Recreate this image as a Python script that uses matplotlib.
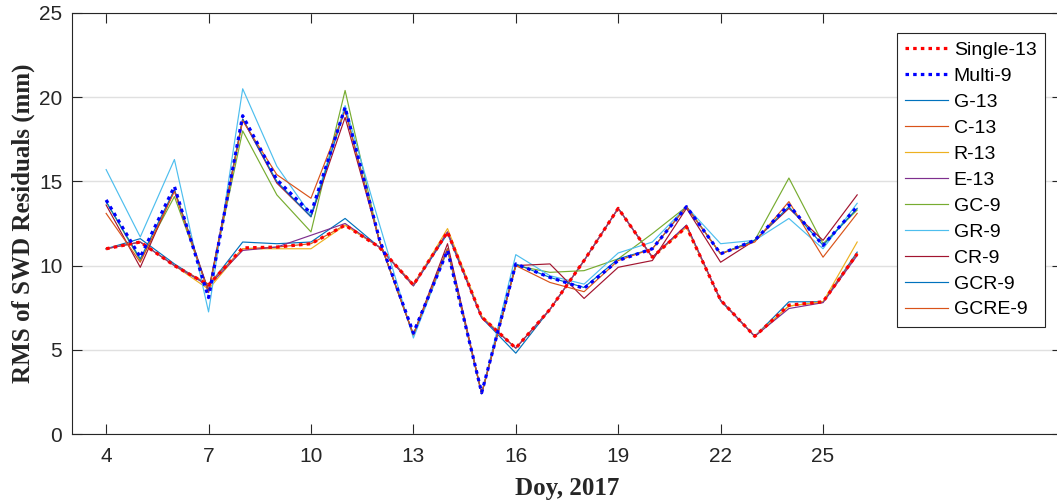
import matplotlib
matplotlib.use("Agg")
import matplotlib.pyplot as plt
import numpy as np

days = list(range(4, 27))

single_13 = [11.0, 11.4, 10.0, 8.85, 11.05, 11.1, 11.3, 12.4, 11.1, 8.85, 12.0, 6.95, 5.1, 7.4, 10.3, 13.4, 10.5, 12.3, 7.95, 5.8, 7.65, 7.85, 10.7]
multi_9 = [13.9, 10.5, 14.7, 8.1, 18.9, 15.1, 13.1, 19.4, 11.6, 6.0, 10.9, 2.45, 10.1, 9.3, 8.65, 10.3, 11.0, 13.5, 10.7, 11.5, 13.6, 11.2, 13.5]
g_13 = [11.0, 11.6, 10.1, 8.8, 11.4, 11.3, 11.4, 12.8, 11.1, 8.8, 11.9, 6.9, 4.8, 7.4, 10.3, 13.4, 10.5, 12.4, 7.9, 5.8, 7.85, 7.85, 10.8]
c_13 = [11.0, 11.4, 10.0, 8.9, 11.0, 11.1, 11.3, 12.4, 11.1, 8.9, 12.0, 6.95, 5.1, 7.4, 10.3, 13.4, 10.5, 12.3, 7.95, 5.8, 7.6, 7.85, 10.7]
r_13 = [11.0, 11.4, 10.0, 8.6, 11.0, 11.0, 11.0, 12.4, 11.1, 8.8, 12.2, 7.0, 5.1, 7.4, 10.3, 13.4, 10.5, 12.3, 7.95, 5.8, 7.6, 7.85, 11.4]
e_13 = [11.0, 11.4, 10.0, 8.8, 10.9, 11.1, 11.8, 12.5, 11.1, 8.8, 12.0, 6.9, 5.1, 7.4, 10.3, 13.4, 10.5, 12.4, 7.95, 5.8, 7.45, 7.8, 10.6]
gc_9 = [13.8, 10.3, 14.1, 8.5, 18.0, 14.2, 12.0, 20.4, 11.5, 5.9, 11.0, 2.4, 10.0, 9.6, 9.7, 10.4, 11.9, 13.5, 10.7, 11.5, 15.2, 11.3, 13.3]
gr_9 = [15.7, 11.7, 16.3, 7.25, 20.5, 15.9, 13.0, 19.5, 12.5, 5.7, 10.9, 2.4, 10.65, 9.4, 8.9, 10.75, 11.4, 13.5, 11.3, 11.5, 12.8, 11.0, 13.7]
cr_9 = [13.6, 9.9, 14.5, 8.5, 18.7, 14.9, 12.9, 18.8, 11.5, 5.9, 11.3, 2.4, 10.0, 10.1, 8.05, 9.9, 10.3, 13.4, 10.2, 11.5, 13.4, 11.5, 14.2]
gcr_9 = [13.8, 10.4, 14.5, 8.4, 18.7, 15.0, 12.9, 19.3, 11.5, 5.9, 11.0, 2.4, 10.1, 9.3, 8.7, 10.4, 11.0, 13.5, 10.7, 11.5, 13.5, 11.2, 13.4]
gcre_9 = [13.1, 10.2, 14.4, 8.4, 18.6, 15.4, 14.0, 19.2, 11.5, 5.9, 11.0, 2.4, 10.0, 9.0, 8.45, 10.3, 11.0, 13.5, 10.7, 11.4, 13.8, 10.5, 13.1]

labels = ["Single-13", "Multi-9", "G-13", "C-13", "R-13", "E-13", "GC-9", "GR-9", "CR-9", "GCR-9", "GCRE-9"]
yticks = [0, 5, 10, 15, 20, 25]
xticks = [4, 7, 10, 13, 16, 19, 22, 25]

c_blue = (0, 0.447, 0.741)
c_orange = (0.85, 0.325, 0.098)
c_yellow = (0.929, 0.694, 0.125)
c_purple = (0.494, 0.184, 0.556)
c_green = (0.466, 0.674, 0.188)
c_cyan = (0.301, 0.745, 0.933)
c_maroon = (0.635, 0.078, 0.184)

W, H = 1057, 501
fig = plt.figure(figsize=(W / 100, H / 100), dpi=100)
ax = fig.add_axes([72 / W, (H - 434) / H, (1062 - 72) / W, (434 - 13) / H])

dot = (0, (1.1, 1.3))
ax.plot(days, single_13, color=(1, 0, 0), lw=2.3, ls=dot, label=labels[0], zorder=5)
ax.plot(days, multi_9, color=(0, 0, 1), lw=2.3, ls=dot, label=labels[1], zorder=5)
thin = 0.85
ax.plot(days, g_13, color=c_blue, lw=thin, label=labels[2])
ax.plot(days, c_13, color=c_orange, lw=thin, label=labels[3])
ax.plot(days, r_13, color=c_yellow, lw=thin, label=labels[4])
ax.plot(days, e_13, color=c_purple, lw=thin, label=labels[5])
ax.plot(days, gc_9, color=c_green, lw=thin, label=labels[6])
ax.plot(days, gr_9, color=c_cyan, lw=thin, label=labels[7])
ax.plot(days, cr_9, color=c_maroon, lw=thin, label=labels[8])
ax.plot(days, gcr_9, color=c_blue, lw=thin, label=labels[9])
ax.plot(days, gcre_9, color=c_orange, lw=thin, label=labels[10])

ax.set_xlim(3, 32)
ax.set_ylim(0, 25)
ax.set_xticks(xticks)
ax.set_yticks(yticks)
ax.yaxis.grid(True, color=(0.88, 0.88, 0.88), lw=1.0)
ax.set_axisbelow(True)
ax.tick_params(direction="in", length=7, width=0.8, top=True, right=True,
               labelsize=15, colors=(0.15, 0.15, 0.15))
ax.tick_params(axis="x", pad=9)
ax.tick_params(axis="y", pad=7)
for lab in ax.get_xticklabels() + ax.get_yticklabels():
    lab.set_family("Liberation Sans")
for s in ax.spines.values():
    s.set_color((0.15, 0.15, 0.15))
    s.set_linewidth(0.8)

ax.set_xlabel("Doy, 2017", family="Liberation Serif", fontweight="bold", fontsize=18,
              labelpad=8.5, color=(0.15, 0.15, 0.15))
ax.set_ylabel("RMS of SWD Residuals (mm)", family="Liberation Serif", fontweight="bold", fontsize=18,
              labelpad=3, color=(0.15, 0.15, 0.15))

leg = ax.legend(loc="upper left", bbox_to_anchor=((897 - 72) / (1062 - 72), (434 - 33) / (434 - 13)),
                prop={"family": "Liberation Sans", "size": 14}, frameon=True, fancybox=False,
                edgecolor=(0.15, 0.15, 0.15), framealpha=1, handlelength=2.2, handletextpad=0.3,
                labelspacing=0.43, borderpad=0.42, borderaxespad=0)
leg.get_frame().set_linewidth(0.8)

fig.savefig("out.png", dpi=100)
